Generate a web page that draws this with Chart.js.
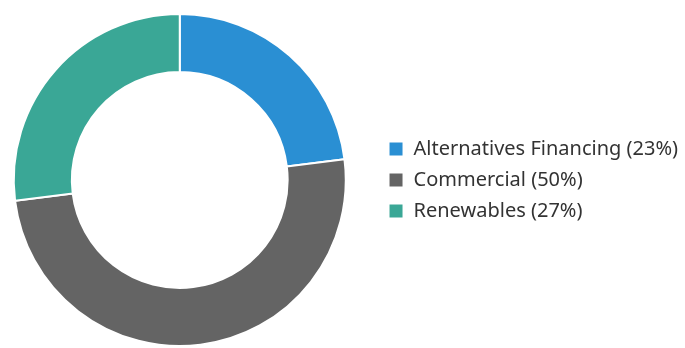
<!DOCTYPE html>
<html>
<head>
<meta charset="utf-8">
<script src="https://cdn.jsdelivr.net/npm/chart.js@4"></script>
<style>
  html, body { margin: 0; padding: 0; background: #fff; overflow: hidden; }
  #wrap { width: 685px; height: 348px; overflow: hidden; }
  /* canvas is a bit wider than the page and shifted left, so the ring sits closer to the edge */
  #myChart { margin-left: -18px; display: block; }
</style>
</head>
<body>
<div id="wrap"><canvas id="myChart" width="703" height="348"></canvas></div>
<script>
const categories = ['Alternatives Financing (23%)', 'Commercial (50%)', 'Renewables (27%)'];
const shares = [23, 50, 27];
const colors = ['#2a8fd3', '#646464', '#3aa796'];

const ctx = document.getElementById('myChart').getContext('2d');
new Chart(ctx, {
  type: 'doughnut',
  data: {
    labels: categories,
    datasets: [{
      data: shares,
      backgroundColor: colors,
      borderColor: '#fff',
      borderWidth: 2,
    }],
  },
  options: {
    responsive: false,
    animation: false,
    cutout: '65%',
    layout: { padding: { top: 13, bottom: 1, left: 0, right: -3 } },
    plugins: {
      tooltip: { enabled: false },
      legend: {
        position: 'right',
        labels: {
          boxWidth: 15,
          boxHeight: 15,
          padding: 11,
          color: '#333',
          font: { family: 'Noto Sans', size: 20 },
        },
      },
    },
  },
});
</script>
</body>
</html>
